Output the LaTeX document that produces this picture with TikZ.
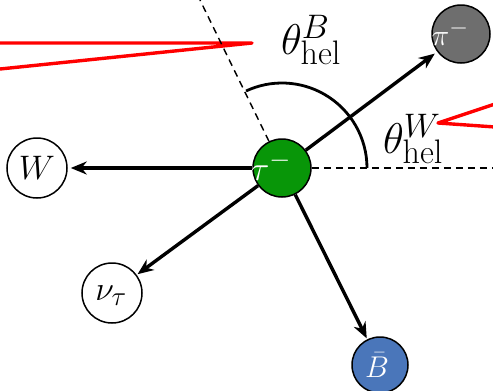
\RequirePackage{fix-cm}
\documentclass[tikz,border=0pt]{standalone}
\usetikzlibrary{arrows.meta}
\definecolor{taugreen}{RGB}{8,150,8}
\definecolor{pigray}{RGB}{110,110,110}
\definecolor{bblue}{RGB}{74,118,186}
\DeclareMathSizes{43}{43}{34}{26}
\DeclareMathSizes{34}{34}{27}{20}
\DeclareMathSizes{30}{30}{24}{18}
\begin{document}
\begin{tikzpicture}[x=1pt,y=1pt,
  particle/.style={circle,draw=black,line width=1.5pt,inner sep=0pt},
  ptext/.style={inner sep=0pt,font=\fontsize{34}{40}\selectfont},
  decay/.style={line width=3.4pt,-{Stealth[length=16pt,width=13pt]}},
  guide/.style={line width=1.4pt,dash pattern=on 7pt off 5pt},
  redline/.style={red,line width=3.4pt,line join=round,line cap=round},
  anglab/.style={inner sep=0pt,font=\fontsize{43}{50}\selectfont}]
\useasboundingbox (0,0) rectangle (493,-391);
% red wedges
\coordinate (rl1) at (0,-43);
\coordinate (rlt) at (252,-43);
\coordinate (rl2) at (0,-69);
\draw[redline] (rl1) -- (rlt) -- (rl2);
\coordinate (rr1) at (495,-104);
\coordinate (rrt) at (438,-123);
\coordinate (rr2) at (495,-127);
\draw[redline] (rr1) -- (rrt) -- (rr2);
% particles
\node[particle,fill=taugreen,minimum size=58pt] (tau) at (282,-168) {};
\node[particle,fill=pigray,minimum size=58pt] (pi) at (461,-34) {};
\node[particle,fill=white,minimum size=60pt] (W) at (37,-168) {};
\node[particle,fill=white,minimum size=60pt] (nu) at (112,-293) {};
\node[particle,fill=bblue,minimum size=56pt] (Bb) at (380,-365) {};
% guide lines
\coordinate (dtop) at (200,0);
\coordinate (dright) at (493,-168);
\draw[guide] (tau) -- (dtop);
\draw[guide] (tau) -- (dright);
% angle arc
\draw[line width=2.8pt] ([shift={(0:85)}]tau.center) arc[start angle=0,end angle=115,radius=85];
% decay arrows
\draw[decay,shorten >=3pt] (tau) -- (W);
\draw[decay,shorten >=1pt] (tau) -- (nu);
\draw[decay,shorten >=1pt] (tau) -- (Bb);
\draw[decay,shorten >=3pt] (tau) -- (pi);
% texts
\node[ptext,text=white] (taut) at (271,-166) {$\tau^-$};
\node[ptext,text=white,font=\fontsize{30}{36}\selectfont] (pit) at (450,-33) {$\pi^-$};
\node[ptext,text=white,font=\fontsize{30}{36}\selectfont] (Bt) at (377,-365) {$\bar{B}$};
\node[ptext] (Wt) at (37,-168) {$W$};
\node[ptext] (nut) at (111,-296) {$\nu_\tau$};
\node[anglab] (thB) at (311,-40) {$\theta^{B}_{\mathrm{hel}}$};
\node[anglab] (thW) at (413,-139) {$\theta^{W}_{\mathrm{hel}}$};
\end{tikzpicture}
\end{document}
